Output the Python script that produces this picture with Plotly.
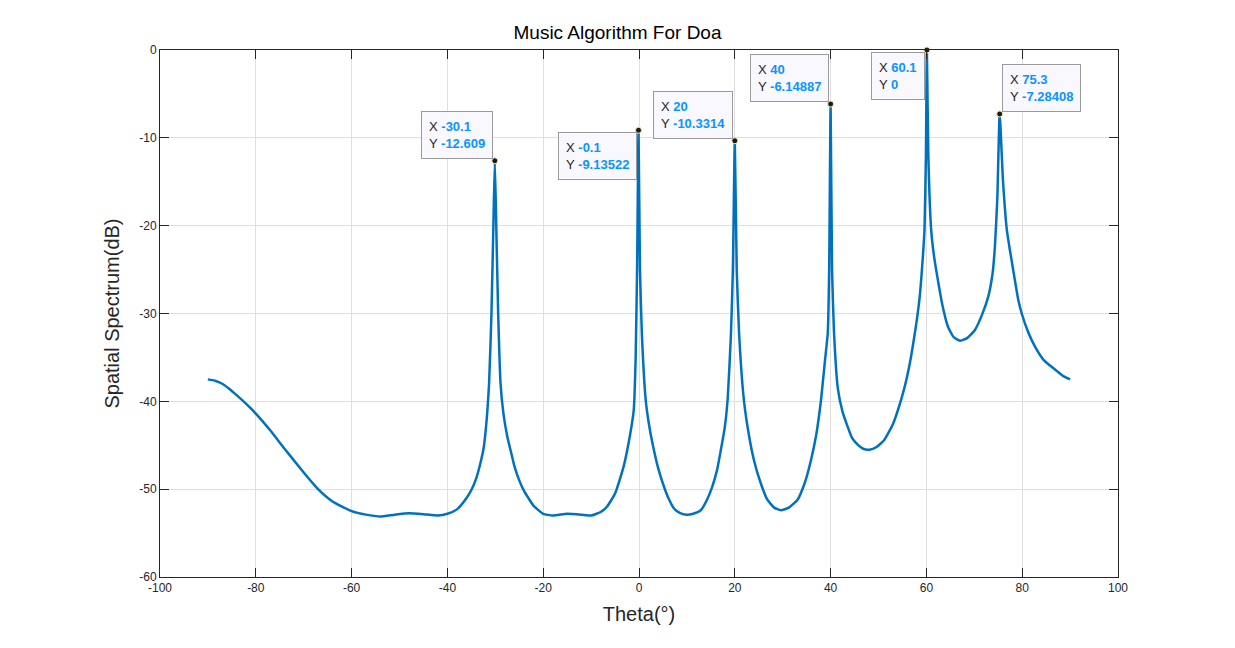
import plotly.graph_objects as go

# Spatial spectrum (theta in degrees, spectrum in dB)
theta = [-90, -88.5, -87, -85.5, -84, -82, -80, -77, -74, -70, -67, -64, -60, -57, -54, -51, -48, -45, -42,
         -40, -38, -36, -35, -34, -33, -32.4, -31.7, -31.3, -30.8, -30.4, -30.1, -29.8,
         -29.4, -28.9, -28.3, -27.5, -26.8, -26, -25, -24, -22, -20, -18, -15, -12, -10,
         -8, -6.7, -5, -3.2, -1.8, -1.1, -0.7, -0.4, -0.1, 0.2, 0.6, 1.4, 2.2, 3.1, 4,
         5.2, 6.2, 7.3, 8.5, 9.9, 11.3, 12.9, 14.2, 15.3, 16.3, 17.1, 17.9, 18.5, 19.2,
         19.6, 20.0, 20.4, 20.9, 21.9, 23, 24, 25.4, 26.8, 28.2, 29.6, 31.3, 33.1, 34.6,
         35.9, 37, 38, 38.8, 39.4, 39.7, 40, 40.3, 40.7, 41.5, 42.5, 43.5, 44.5, 45.6,
         46.8, 48.1, 49.6, 51.2, 53, 54.7, 55.8, 56.8, 57.8, 58.6, 59.2, 59.6, 59.9, 60.1,
         60.4, 61.0, 61.6, 62.4, 63.4, 64.5, 65.7, 67.1, 68.5, 70.1, 71.5, 72.9, 73.8,
         74.3, 74.8, 75.3, 76.0, 76.8, 77.5, 78.5, 79.2, 79.9, 81.3, 82.7, 84.5, 86.9,
         88.5, 90]
spectrum = [-37.5, -37.65, -38.0, -38.6, -39.3, -40.3, -41.4, -43.3, -45.4, -48.1, -50.0, -51.4, -52.5, -52.9,
            -53.1, -52.9, -52.75, -52.85, -53.0, -52.8, -52.3, -51.0, -50.1, -48.8, -46.8,
            -45.2, -41.4, -38, -30, -20, -12.609, -20, -30, -38, -41.4, -44, -45.6, -47.4,
            -49.0, -50.2, -51.9, -52.8, -53.0, -52.8, -52.9, -53.0, -52.6, -52.0, -50.5,
            -47.4, -43.6, -41, -35, -25, -9.13522, -25, -32.3, -39.85, -43, -45.5, -47.6,
            -49.7, -51.1, -52.2, -52.7, -52.9, -52.8, -52.4, -51.2, -49.7, -47.8, -45.5,
            -43, -39.85, -32.3, -25, -10.3314, -25, -32.3, -39.85, -44, -46.7, -49.3,
            -51.2, -52.1, -52.4, -52.1, -51.2, -49.3, -46.7, -43.8, -39.85, -35.5, -32.3,
            -25, -6.14887, -25, -32, -38.5, -41.2, -42.8, -44.2, -44.9, -45.4, -45.5,
            -45.2, -44.4, -42.6, -39.85, -37.6, -34.9, -31.5, -28.1, -24, -20.5, -12, 0,
            -12, -20.5, -23.5, -26.2, -29.2, -31.5, -32.7, -33.1, -32.8, -31.9, -30.3,
            -28.1, -25.5, -22.4, -17, -7.28408, -15, -20.5, -23, -26.3, -28.5, -30, -32.2,
            -33.8, -35.3, -36.4, -37.1, -37.5]

# Data tips
tip_x = [-30.1, -0.1, 20, 40, 60.1, 75.3]
tip_y = [-12.609, -9.13522, -10.3314, -6.14887, 0, -7.28408]
tip_x_text = ["-30.1", "-0.1", "20", "40", "60.1", "75.3"]
tip_y_text = ["-12.609", "-9.13522", "-10.3314", "-6.14887", "0", "-7.28408"]
tip_anchor = [("right", "bottom"), ("right", "top"), ("right", "bottom"),
              ("right", "bottom"), ("right", "top"), ("left", "bottom")]

x_ticks = [-100, -80, -60, -40, -20, 0, 20, 40, 60, 80, 100]
x_tick_text = ["-100", "-80", "-60", "-40", "-20", "0", "20", "40", "60", "80", "100"]
y_ticks = [-60, -50, -40, -30, -20, -10, 0]
y_tick_text = ["-60", "-50", "-40", "-30", "-20", "-10", "0"]

FONT = "Liberation Sans, Arial, Helvetica, sans-serif"
LINE = "#0072BD"
AX = "#262626"

fig = go.Figure()
fig.add_trace(go.Scatter(x=theta, y=spectrum, mode="lines",
                         line=dict(color=LINE, width=2.5, shape="spline", smoothing=0.45),
                         hoverinfo="skip", showlegend=False))
fig.add_trace(go.Scatter(x=tip_x, y=tip_y, mode="markers",
                         marker=dict(color="#1a1a1a", size=6,
                                     line=dict(color="#f2f0b0", width=1)),
                         cliponaxis=False, showlegend=False, hoverinfo="skip"))

blue = "#0a94ff"
for xv, yv, xt, yt, (xa, ya) in zip(tip_x, tip_y, tip_x_text, tip_y_text, tip_anchor):
    txt = (f"X <span style='color:{blue}'><b>{xt}</b></span><br>"
           f"Y <span style='color:{blue}'><b>{yt}</b></span>")
    fig.add_annotation(x=xv, y=yv, xref="x", yref="y", text=txt, showarrow=False,
                       xanchor=xa, yanchor=ya, align="left",
                       xshift=-2 if xa == "right" else 2,
                       yshift=2 if ya == "bottom" else -2,
                       font=dict(family=FONT, size=13, color=AX),
                       bgcolor="#f8f8fe", bordercolor="#9a9a9a", borderwidth=1,
                       borderpad=7)

axis_common = dict(showline=True, linecolor=AX, linewidth=1, mirror="allticks",
                   ticks="inside", ticklen=9, tickcolor=AX, tickwidth=1,
                   showgrid=True, gridcolor="#dfdfdf", gridwidth=1, zeroline=False,
                   tickfont=dict(family=FONT, size=12, color=AX))

fig.update_layout(
    width=1235, height=648,
    paper_bgcolor="white", plot_bgcolor="white",
    margin=dict(l=160, r=117, t=50, b=71),
    title=dict(text="Music Algorithm For Doa", x=0.5, xanchor="center",
               y=1 - 32 / 648, yanchor="middle",
               font=dict(family=FONT, size=19, color="#000000")),
    xaxis=dict(range=[-100, 100], tickvals=x_ticks, ticktext=x_tick_text,
               title=dict(text="Theta(°)", standoff=12,
                          font=dict(family=FONT, size=20, color=AX)),
               **axis_common),
    yaxis=dict(range=[-60, 0], tickvals=y_ticks, ticktext=y_tick_text,
               title=dict(text="Spatial Spectrum(dB)", standoff=14,
                          font=dict(family=FONT, size=20, color=AX)),
               **axis_common),
)

fig.write_html("out.html")
